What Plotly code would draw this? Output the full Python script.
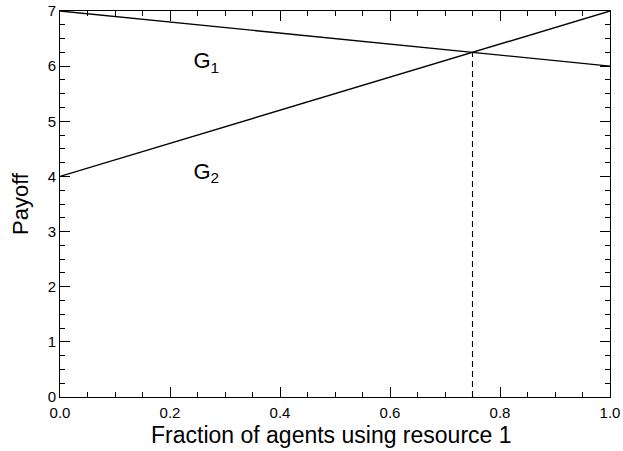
import plotly.graph_objects as go

# Payoff of each resource as a function of the fraction using resource 1
frac = [0.0, 1.0]
g1_payoff = [7.0, 6.0]
g2_payoff = [4.0, 7.0]

# Equilibrium where the two payoffs are equal
eq_x = 0.75
eq_y = 6.25

labels = ["G<sub>1</sub>", "G<sub>2</sub>"]
label_x = [0.266, 0.266]
label_y = [6.06, 4.06]

FONT = "Liberation Sans, Arial, Helvetica, sans-serif"

fig = go.Figure()
fig.add_trace(go.Scatter(x=frac, y=g1_payoff, mode="lines",
                         line=dict(color="black", width=1.4), showlegend=False))
fig.add_trace(go.Scatter(x=frac, y=g2_payoff, mode="lines",
                         line=dict(color="black", width=1.4), showlegend=False))
fig.add_trace(go.Scatter(x=[eq_x, eq_x], y=[0, eq_y], mode="lines",
                         line=dict(color="black", width=1.1, dash="6px,4px"),
                         showlegend=False))
fig.add_trace(go.Scatter(x=label_x, y=label_y, mode="text", text=labels,
                         textfont=dict(family=FONT, size=22, color="black"),
                         showlegend=False))

axis_common = dict(
    showline=True, linecolor="black", linewidth=1, mirror="ticks",
    ticks="inside", ticklen=10, tickcolor="black", tickwidth=1,
    showgrid=False, zeroline=False, automargin=False,
    tickfont=dict(family=FONT, size=15, color="black"),
)

fig.update_xaxes(range=[0, 1], dtick=0.2, tickformat=".1f",
                 ticklabelstandoff=2,
                 minor=dict(dtick=0.05, ticklen=5, ticks="inside",
                            tickcolor="black", showgrid=False),
                 **axis_common)
fig.update_yaxes(range=[0, 7], dtick=1,
                 minor=dict(dtick=0.25, ticklen=5, ticks="inside",
                            tickcolor="black", showgrid=False),
                 title=dict(text="Payoff",
                            font=dict(family=FONT, size=22, color="black"),
                            standoff=12),
                 **axis_common)

# x-axis title placed just below the tick labels
fig.add_annotation(text="Fraction of agents using resource 1",
                   xref="paper", yref="paper", x=0.493, y=0,
                   xanchor="center", yanchor="top", yshift=-23,
                   showarrow=False,
                   font=dict(family=FONT, size=23, color="black"))

fig.update_layout(
    width=623, height=451,
    margin=dict(l=60, r=13, t=11, b=54),
    plot_bgcolor="white", paper_bgcolor="white",
)

fig.write_html("out.html")
